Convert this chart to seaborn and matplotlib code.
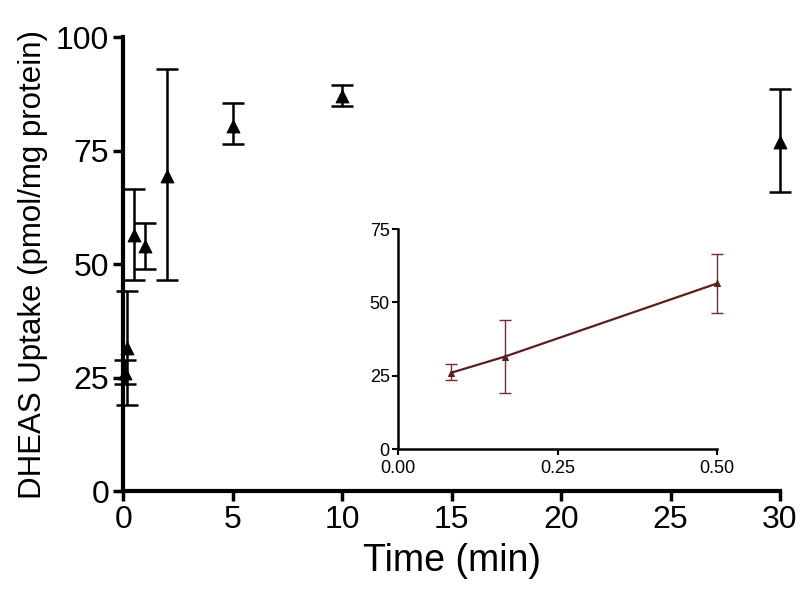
import numpy as np
import pandas as pd
import matplotlib
matplotlib.use("Agg")
import matplotlib.pyplot as plt
import seaborn as sns

# time points (min), mean uptake and SD
time_min = [0.083, 0.167, 0.5, 1, 2, 5, 10, 30]
uptake = [26.0, 31.5, 56.5, 54.0, 69.5, 80.5, 87.0, 77.0]
err_lo = [2.5, 12.5, 10.0, 5.0, 23.0, 4.0, 2.2, 11.0]
err_hi = [3.0, 12.5, 10.0, 5.0, 23.5, 5.0, 2.5, 11.5]

# inset: first three points
inset_n = 3

sns.set_theme(style="ticks")
plt.rcParams['font.family'] = ['Liberation Sans', 'DejaVu Sans']
plt.rcParams['text.color'] = 'black'
plt.rcParams['axes.labelcolor'] = 'black'
plt.rcParams['xtick.color'] = 'black'
plt.rcParams['ytick.color'] = 'black'

df = pd.DataFrame({"Time": time_min, "Uptake": uptake})

fig = plt.figure(figsize=(8, 5.99), dpi=100)
ax = fig.add_axes([0.154, 0.180, 0.821, 0.758])

ax.errorbar(time_min, uptake, yerr=[err_lo, err_hi], fmt='none',
            ecolor='black', elinewidth=1.8, capsize=8, capthick=1.8,
            clip_on=False, zorder=3)
sns.scatterplot(data=df, x="Time", y="Uptake", marker='^', color='black',
                s=85, edgecolor='black', ax=ax, clip_on=False, zorder=4)

ax.set_xlim(0, 30)
ax.set_ylim(0, 100)
ax.set_xticks([0, 5, 10, 15, 20, 25, 30])
ax.set_yticks([0, 25, 50, 75, 100])
ax.set_xlabel("Time (min)", fontsize=27, labelpad=6)
ax.set_ylabel("DHEAS Uptake (pmol/mg protein)", fontsize=22.5, labelpad=6)
ax.tick_params(labelsize=23, width=2.5, length=7, pad=3, direction='out')
for side in ['top', 'right']:
    ax.spines[side].set_visible(False)
for side in ['left', 'bottom']:
    ax.spines[side].set_linewidth(3)
    ax.spines[side].set_color('black')

# inset
axi = fig.add_axes([0.4975, 0.2504, 0.399, 0.367])
axi.errorbar(time_min[:inset_n], uptake[:inset_n],
             yerr=[err_lo[:inset_n], err_hi[:inset_n]], fmt='none',
             ecolor='#6e2f2f', elinewidth=1.0, capsize=4, capthick=1.0,
             clip_on=False, zorder=3)
sns.lineplot(data=df.iloc[:inset_n], x="Time", y="Uptake", color='#5a1e1e',
             linewidth=1.6, marker='^', markersize=4, markeredgecolor='#5a1e1e',
             ax=axi, zorder=4, clip_on=False)
axi.set_xlim(0, 0.5)
axi.set_ylim(0, 75)
axi.set_xticks([0.0, 0.25, 0.5])
axi.set_xticklabels(["0.00", "0.25", "0.50"])
axi.set_yticks([0, 25, 50, 75])
axi.set_xlabel("")
axi.set_ylabel("")
axi.tick_params(axis='x', labelsize=13, width=1.5, length=4, pad=4)
axi.tick_params(axis='y', labelsize=13, width=1.5, length=4, pad=2)
for side in ['top', 'right']:
    axi.spines[side].set_visible(False)
for side in ['left', 'bottom']:
    axi.spines[side].set_linewidth(1.8)
    axi.spines[side].set_color('black')

fig.savefig("out.png", dpi=100)
